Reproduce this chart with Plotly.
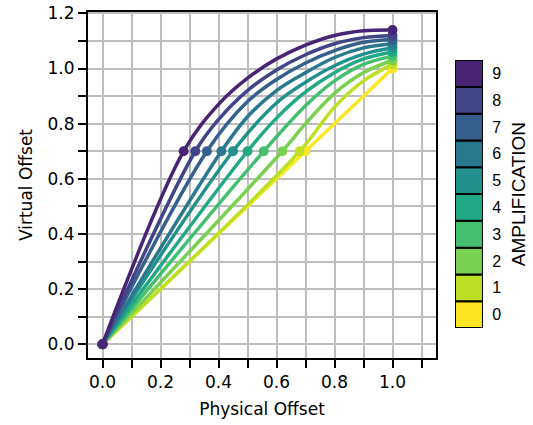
import plotly.graph_objects as go

# amplification levels and their colours (viridis, 0 = yellow ... 9 = purple)
amplification = [0, 1, 2, 3, 4, 5, 6, 7, 8, 9]
colors = ['#fde725', '#bddf26', '#7ad151', '#44bf70', '#22a884',
          '#21918c', '#2a788e', '#355f8d', '#414487', '#482475']

# curve points: start, marker at 0.7, ..., end
phys = {
    0: [0, 0.70, 1.0],
    1: [0, 0.68, 0.8, 0.9, 1.0],
    2: [0, 0.62, 0.7, 0.8, 0.9, 1.0],
    3: [0, 0.556, 0.7, 0.8, 0.9, 1.0],
    4: [0, 0.50, 0.6, 0.7, 0.8, 0.9, 1.0],
    5: [0, 0.45, 0.6, 0.7, 0.8, 0.9, 1.0],
    6: [0, 0.41, 0.5, 0.6, 0.7, 0.8, 0.9, 1.0],
    7: [0, 0.36, 0.5, 0.6, 0.7, 0.8, 0.9, 1.0],
    8: [0, 0.32, 0.4, 0.5, 0.6, 0.7, 0.8, 0.9, 1.0],
    9: [0, 0.28, 0.4, 0.5, 0.6, 0.7, 0.8, 0.9, 1.0],
}
virt = {
    0: [0, 0.7, 1.0],
    1: [0, 0.7, 0.86, 0.955, 1.015],
    2: [0, 0.7, 0.8, 0.91, 0.985, 1.03],
    3: [0, 0.7, 0.865, 0.955, 1.015, 1.045],
    4: [0, 0.7, 0.82, 0.915, 0.985, 1.035, 1.06],
    5: [0, 0.7, 0.875, 0.95, 1.01, 1.052, 1.075],
    6: [0, 0.7, 0.825, 0.92, 0.985, 1.04, 1.075, 1.09],
    7: [0, 0.7, 0.88, 0.96, 1.02, 1.065, 1.095, 1.105],
    8: [0, 0.7, 0.815, 0.92, 0.995, 1.05, 1.09, 1.112, 1.12],
    9: [0, 0.7, 0.87, 0.965, 1.035, 1.085, 1.12, 1.137, 1.14],
}

tickfont = dict(family='DejaVu Sans', size=17, color='black')
cbfont = dict(family='Liberation Sans', size=16, color='black')
cbtitlefont = dict(family='Liberation Sans', size=19, color='black')

fig = go.Figure()

for a in amplification:
    x = phys[a]
    y = virt[a]
    fig.add_trace(go.Scatter(x=x, y=y, mode='lines',
                             line=dict(color=colors[a], width=3.5, shape='spline'),
                             showlegend=False, hoverinfo='skip'))
    fig.add_trace(go.Scatter(x=[x[0], x[1], x[-1]], y=[y[0], y[1], y[-1]],
                             mode='markers',
                             marker=dict(color=colors[a], size=10),
                             showlegend=False))

# discrete colour bar drawn as stacked boxes
fig.add_trace(go.Bar(x=[0] * len(amplification), y=[1] * len(amplification),
                     base=amplification, width=1,
                     marker=dict(color=colors, line=dict(color='black', width=2)),
                     xaxis='x2', yaxis='y2', showlegend=False, hoverinfo='skip'))

axis_style = dict(showline=True, linecolor='black', linewidth=2, mirror=True,
                  ticks='outside', ticklen=8, tickwidth=2, tickcolor='black',
                  showgrid=True, gridcolor='#bdbdbd', gridwidth=2,
                  zeroline=False, dtick=0.2, tickformat='.1f', tickfont=tickfont,
                  automargin=False, ticklabeloverflow='allow',
                  minor=dict(dtick=0.1, ticks='outside', ticklen=8, tickwidth=2,
                             tickcolor='black', showgrid=True,
                             gridcolor='#bdbdbd', gridwidth=2))

fig.update_layout(
    width=533, height=425,
    margin=dict(l=88, r=10, t=12, b=67),
    plot_bgcolor='white', paper_bgcolor='white',
    barmode='overlay',
    xaxis=dict(axis_style, domain=[0, 0.8], range=[-0.05, 1.15],
               title=dict(text='Physical Offset', font=tickfont, standoff=12)),
    yaxis=dict(axis_style, range=[-0.05, 1.205],
               title=dict(text='Virtual Offset', font=tickfont, standoff=11)),
    xaxis2=dict(domain=[0.8437, 0.908], range=[-0.5, 0.5], anchor='y2',
                automargin=False, showgrid=False, zeroline=False,
                showticklabels=False, fixedrange=True),
    yaxis2=dict(domain=[0.0867, 0.861], range=[0, 10], anchor='x2', side='right',
                automargin=False, showgrid=False, zeroline=False,
                tickvals=[a + 0.5 for a in amplification],
                ticktext=[str(a) for a in amplification],
                ticks='outside', ticklen=5, tickcolor='rgba(0,0,0,0)',
                tickfont=cbfont,
                title=dict(text='AMPLIFICATION', font=cbtitlefont, standoff=11)),
)

# drop the page's default body margin so the figure sits at the top-left corner
fig.write_html('out.html', config={'displayModeBar': False},
               post_script="document.body.style.margin = '0px';")
